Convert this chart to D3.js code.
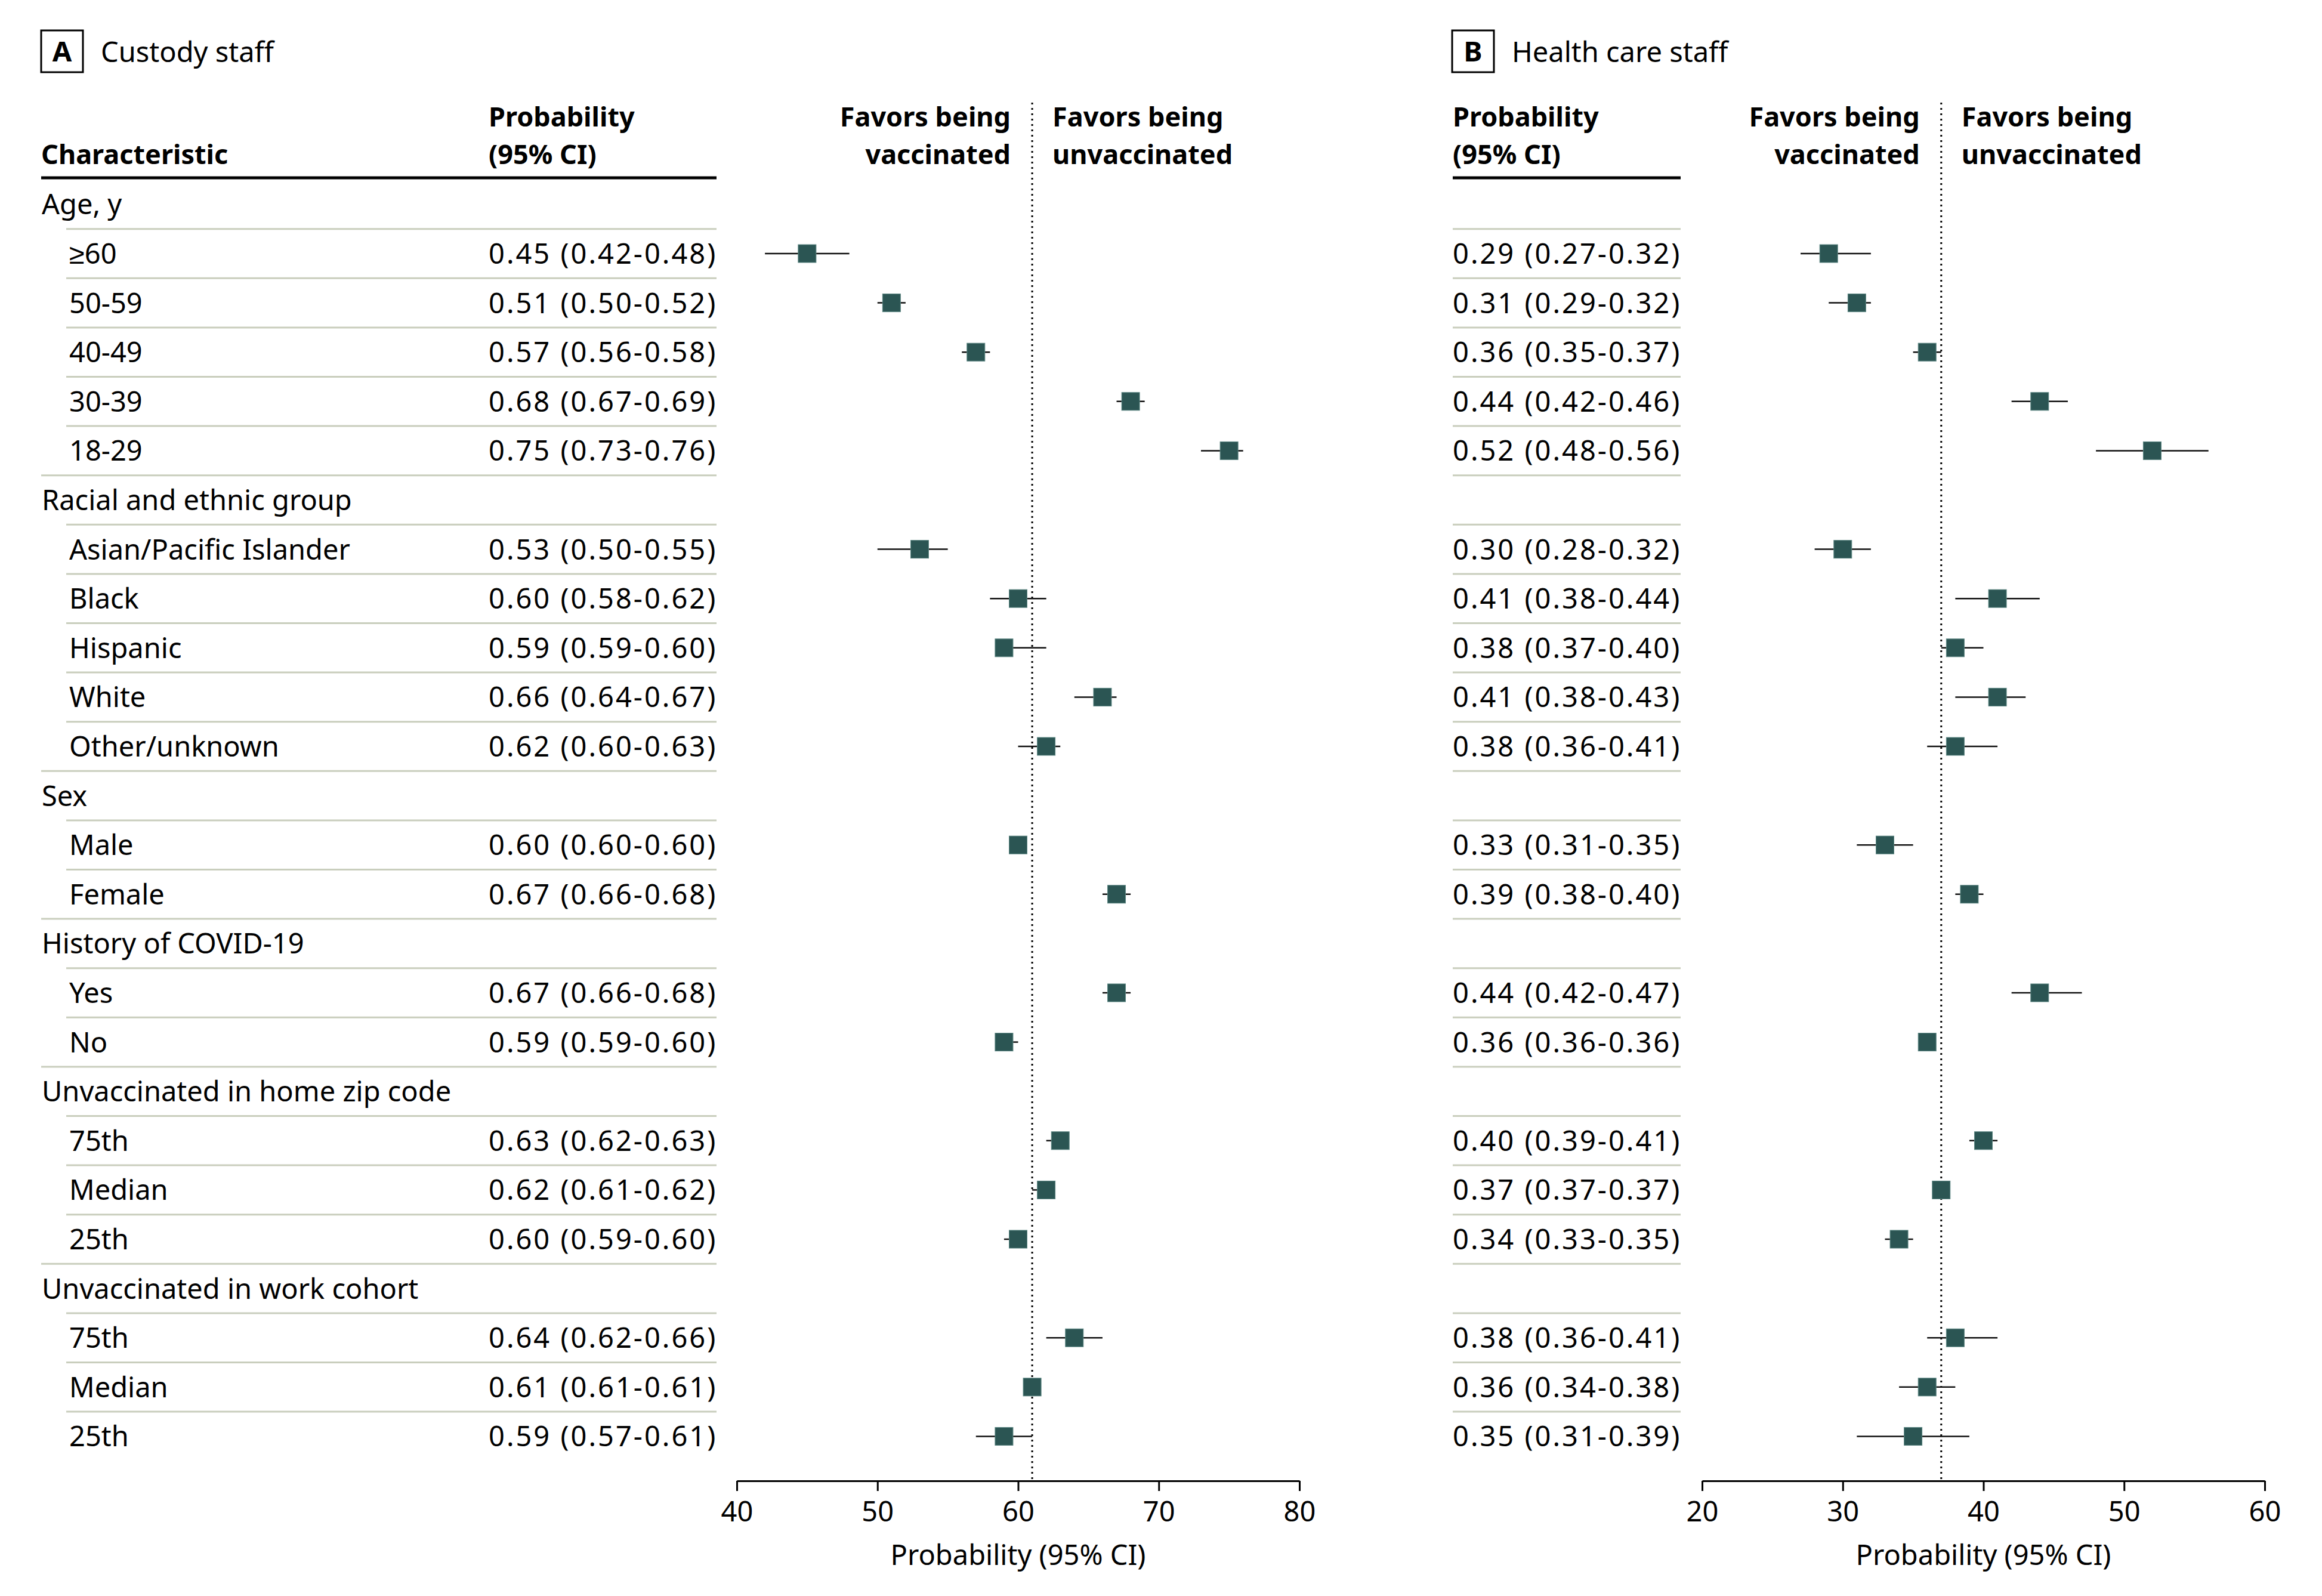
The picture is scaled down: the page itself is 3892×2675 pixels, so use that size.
<!DOCTYPE html>
<html>
<head>
<meta charset="utf-8">
<script src="https://cdn.jsdelivr.net/npm/d3@7"></script>
<style>
  body { margin: 0; background: #fff; }
  text { font-family: "Noto Sans", sans-serif; fill: #000; }
</style>
</head>
<body>
<svg id="chart"></svg>
<script>
// ---- data ----
const groups = ["Age, y", "Racial and ethnic group", "Sex", "History of COVID-19",
  "Unvaccinated in home zip code", "Unvaccinated in work cohort"];
const groupItems = [
  ["≥60", "50-59", "40-49", "30-39", "18-29"],
  ["Asian/Pacific Islander", "Black", "Hispanic", "White", "Other/unknown"],
  ["Male", "Female"],
  ["Yes", "No"],
  ["75th", "Median", "25th"],
  ["75th", "Median", "25th"]
];

// custody staff (panel A), probability x 100
const custodyEst = [45, 51, 57, 68, 75, 53, 60, 59, 66, 62, 60, 67, 67, 59, 63, 62, 60, 64, 61, 59];
const custodyLo  = [42, 50, 56, 67, 73, 50, 58, 59, 64, 60, 60, 66, 66, 59, 62, 61, 59, 62, 61, 57];
const custodyHi  = [48, 52, 58, 69, 76, 55, 62, 62, 67, 63, 60, 68, 68, 60, 63, 62, 60, 66, 61, 61];
const custodyText = ["0.45 (0.42-0.48)", "0.51 (0.50-0.52)", "0.57 (0.56-0.58)", "0.68 (0.67-0.69)",
  "0.75 (0.73-0.76)", "0.53 (0.50-0.55)", "0.60 (0.58-0.62)", "0.59 (0.59-0.60)", "0.66 (0.64-0.67)",
  "0.62 (0.60-0.63)", "0.60 (0.60-0.60)", "0.67 (0.66-0.68)", "0.67 (0.66-0.68)", "0.59 (0.59-0.60)",
  "0.63 (0.62-0.63)", "0.62 (0.61-0.62)", "0.60 (0.59-0.60)", "0.64 (0.62-0.66)", "0.61 (0.61-0.61)",
  "0.59 (0.57-0.61)"];
const custodyRef = 61;

// health care staff (panel B)
const healthEst = [29, 31, 36, 44, 52, 30, 41, 38, 41, 38, 33, 39, 44, 36, 40, 37, 34, 38, 36, 35];
const healthLo  = [27, 29, 35, 42, 48, 28, 38, 37, 38, 36, 31, 38, 42, 36, 39, 37, 33, 36, 34, 31];
const healthHi  = [32, 32, 37, 46, 56, 32, 44, 40, 43, 41, 35, 40, 47, 36, 41, 37, 35, 41, 38, 39];
const healthText = ["0.29 (0.27-0.32)", "0.31 (0.29-0.32)", "0.36 (0.35-0.37)", "0.44 (0.42-0.46)",
  "0.52 (0.48-0.56)", "0.30 (0.28-0.32)", "0.41 (0.38-0.44)", "0.38 (0.37-0.40)", "0.41 (0.38-0.43)",
  "0.38 (0.36-0.41)", "0.33 (0.31-0.35)", "0.39 (0.38-0.40)", "0.44 (0.42-0.47)", "0.36 (0.36-0.36)",
  "0.40 (0.39-0.41)", "0.37 (0.37-0.37)", "0.34 (0.33-0.35)", "0.38 (0.36-0.41)", "0.36 (0.34-0.38)",
  "0.35 (0.31-0.39)"];
const healthRef = 37;

const custodyTicks = [40, 50, 60, 70, 80];
const healthTicks = [20, 30, 40, 50, 60];

// ---- layout ----
const W = 3892, H = 2675;
const FS = 47;      // body text
const HFS = 45;     // bold headers
const boxColor = "#2b5553";
const ruleColor = "#c9cebd";

const svg = d3.select('#chart')
  .attr('width', W)
  .attr('height', H)
  .style('display', 'block');
svg.append('rect').attr('width', W).attr('height', H).attr('fill', '#fff');

// flatten rows: group headers followed by their items
const rows = [];
let k = 0;
groups.forEach((g, gi) => {
  rows.push({ type: 'group', label: g });
  groupItems[gi].forEach(it => { rows.push({ type: 'item', label: it, k: k++ }); });
});

const y = d3.scalePoint()
  .domain(d3.range(rows.length))
  .range([342.4, 342.4 + (rows.length - 1) * 82.6]);
const step = y.step();

const panels = [
  { letter: 'A', title: 'Custody staff', boxX: 69, colX: 819, colEnd: 1201,
    range: [1235, 2178], domain: [40, 80], ticks: custodyTicks, ref: custodyRef,
    est: custodyEst, lo: custodyLo, hi: custodyHi, txt: custodyText, labels: true },
  { letter: 'B', title: 'Health care staff', boxX: 2434, colX: 2435, colEnd: 2817,
    range: [2853, 3796], domain: [20, 60], ticks: healthTicks, ref: healthRef,
    est: healthEst, lo: healthLo, hi: healthHi, txt: healthText, labels: false }
];

panels.forEach(p => {
  const g = svg.append('g');
  const x = d3.scaleLinear().domain(p.domain).range(p.range);

  // panel letter box + title
  g.append('rect')
    .attr('x', p.boxX).attr('y', 51).attr('width', 70).attr('height', 70)
    .attr('fill', 'none').attr('stroke', '#000').attr('stroke-width', 3);
  g.append('text')
    .attr('x', p.boxX + 35).attr('y', 103)
    .attr('text-anchor', 'middle')
    .style('font-size', FS + 'px').style('font-weight', 'bold')
    .text(p.letter);
  g.append('text')
    .attr('x', p.boxX + 100).attr('y', 104)
    .style('font-size', FS + 'px')
    .text(p.title);

  // column headers
  const hdr = (tx, ty, txt, anchor) => g.append('text')
    .attr('x', tx).attr('y', ty)
    .attr('text-anchor', anchor || 'start')
    .style('font-size', HFS + 'px').style('font-weight', 'bold')
    .text(txt);
  if (p.labels) hdr(69, 275, 'Characteristic');
  hdr(p.colX, 212, 'Probability');
  hdr(p.colX, 275, '(95% CI)');
  const refX = x(p.ref);
  hdr(refX - 36, 212, 'Favors being', 'end');
  hdr(refX - 36, 275, 'vaccinated', 'end');
  hdr(refX + 34, 212, 'Favors being');
  hdr(refX + 34, 275, 'unvaccinated');

  // thick header rule
  g.append('line')
    .attr('x1', p.labels ? 69 : p.colX).attr('x2', p.colEnd)
    .attr('y1', 298).attr('y2', 298)
    .attr('stroke', '#000').attr('stroke-width', 5);

  // row separators
  g.selectAll('.sep')
    .data(rows.slice(1).map((r, i) => ({ r, i: i + 1 })))
    .join('line')
    .attr('x1', d => p.labels ? (d.r.type === 'item' ? 111 : 69) : p.colX)
    .attr('x2', p.colEnd)
    .attr('y1', d => y(d.i) - step / 2)
    .attr('y2', d => y(d.i) - step / 2)
    .attr('stroke', ruleColor).attr('stroke-width', 3);

  // labels
  if (p.labels) {
    g.selectAll('.lab')
      .data(rows.map((r, i) => ({ r, i })))
      .join('text')
      .attr('x', d => d.r.type === 'item' ? 116 : 70)
      .attr('y', d => y(d.i) + 17)
      .style('font-size', FS + 'px')
      .text(d => d.r.label);
  }

  const items = rows.map((r, i) => ({ r, i })).filter(d => d.r.type === 'item');

  // probability text column
  g.selectAll('.num')
    .data(items)
    .join('text')
    .attr('x', p.colX)
    .attr('y', d => y(d.i) + 17)
    .style('font-size', FS + 'px')
    .style('letter-spacing', '3px')
    .text(d => p.txt[d.r.k]);

  // reference dotted line
  g.append('line')
    .attr('x1', refX).attr('x2', refX)
    .attr('y1', 172).attr('y2', 2482)
    .attr('stroke', '#000').attr('stroke-width', 3)
    .attr('stroke-dasharray', '3,6');

  // CI lines
  g.selectAll('.ci')
    .data(items)
    .join('line')
    .attr('x1', d => x(p.lo[d.r.k]))
    .attr('x2', d => x(p.hi[d.r.k]))
    .attr('y1', d => y(d.i)).attr('y2', d => y(d.i))
    .attr('stroke', '#111').attr('stroke-width', 2.5);

  // point estimates
  const sz = 30;
  g.selectAll('.pt')
    .data(items)
    .join('rect')
    .attr('x', d => x(p.est[d.r.k]) - sz / 2)
    .attr('y', d => y(d.i) - sz / 2)
    .attr('width', sz).attr('height', sz)
    .attr('fill', boxColor)
    .attr('stroke', '#5d8783').attr('stroke-width', 1);

  // axis
  const axis = d3.axisBottom(x)
    .tickValues(p.ticks)
    .tickSize(17)
    .tickSizeOuter(0)
    .tickPadding(18)
    .tickFormat(d3.format('d'));
  const ag = g.append('g')
    .attr('transform', 'translate(0,2482)')
    .call(axis);
  ag.select('.domain').attr('stroke', '#000').attr('stroke-width', 3);
  ag.selectAll('.tick line').attr('stroke', '#000').attr('stroke-width', 3);
  ag.selectAll('.tick text')
    .style('font-family', '"Noto Sans", sans-serif')
    .style('font-size', FS + 'px')
    .attr('fill', '#000');

  g.append('text')
    .attr('x', (p.range[0] + p.range[1]) / 2)
    .attr('y', 2623)
    .attr('text-anchor', 'middle')
    .style('font-size', FS + 'px')
    .text('Probability (95% CI)');
});
</script>
</body>
</html>
